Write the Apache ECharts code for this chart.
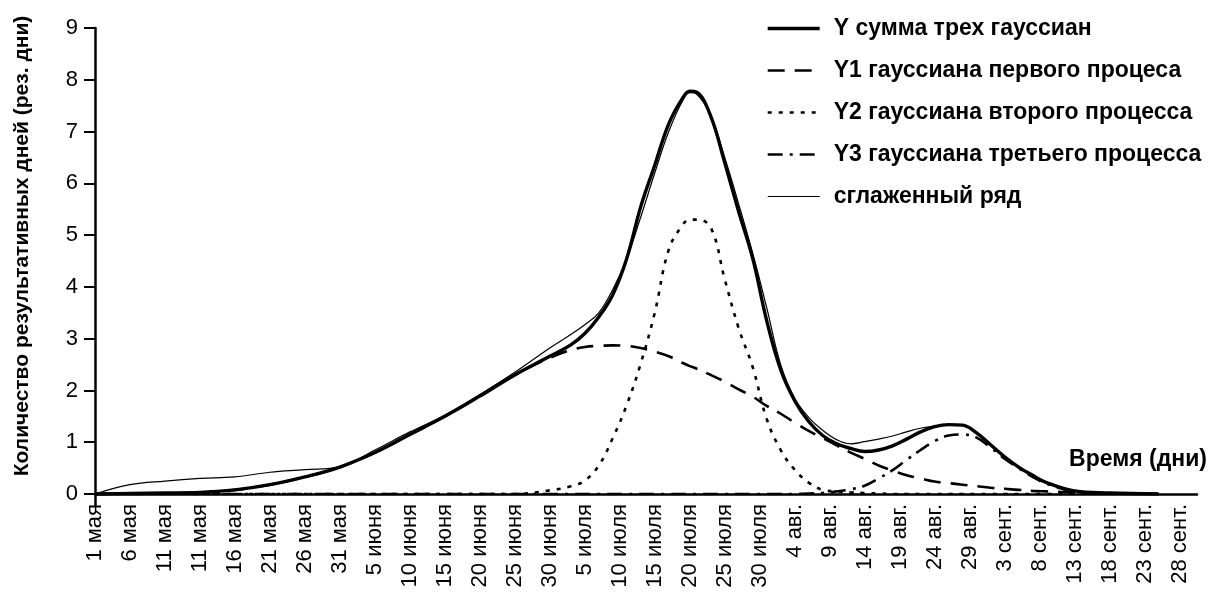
<!DOCTYPE html>
<html>
<head>
<meta charset="utf-8">
<script src="https://cdn.jsdelivr.net/npm/echarts@6/dist/echarts.min.js"></script>
<style>
  html, body { margin: 0; padding: 0; background: #fff; }
  #chart { width: 1219px; height: 601px; }
</style>
</head>
<body>
<div id="chart"></div>
<script>
// tick labels every 5 days (the doubled "11 мая" is as in the source)
const labels = ['1 мая', '6 мая', '11 мая', '11 мая', '16 мая', '21 мая', '26 мая', '31 мая',
  '5 июня', '10 июня', '15 июня', '20 июня', '25 июня', '30 июня',
  '5 июля', '10 июля', '15 июля', '20 июля', '25 июля', '30 июля',
  '4 авг.', '9 авг.', '14 авг.', '19 авг.', '24 авг.', '29 авг.',
  '3 сент.', '8 сент.', '13 сент.', '18 сент.', '23 сент.', '28 сент.'];

// days since 1 May
const days = [0, 5, 10, 15, 20, 25, 30, 35, 40, 45, 50, 55, 60, 65, 68, 70, 72, 74, 76, 78, 80, 82, 84, 85, 86, 88,
  90, 92, 94, 96, 98, 100, 102, 104, 106, 108, 110, 112, 114, 116, 118, 120, 122, 124, 126, 128, 130, 132, 134, 136,
  140, 145, 152];

const ySum = [0, 0.01, 0.02, 0.03, 0.08, 0.18, 0.33, 0.52, 0.8, 1.15, 1.5, 1.89, 2.3, 2.66, 2.88, 3.1, 3.42, 3.85, 4.55,
  5.55, 6.35, 7.15, 7.65, 7.78, 7.76, 7.3, 6.4, 5.45, 4.55, 3.35, 2.4, 1.8, 1.4, 1.13, 0.97, 0.88, 0.82, 0.85, 0.93,
  1.06, 1.2, 1.3, 1.34, 1.33, 1.18, 0.95, 0.72, 0.52, 0.36, 0.22, 0.06, 0.02, 0];

const y1 = [0, 0.005, 0.01, 0.03, 0.08, 0.18, 0.33, 0.52, 0.8, 1.15, 1.5, 1.89, 2.3, 2.63, 2.78, 2.84, 2.86, 2.87, 2.86,
  2.82, 2.75, 2.66, 2.53, 2.47, 2.42, 2.3, 2.17, 2.02, 1.88, 1.7, 1.55, 1.38, 1.22, 1.08, 0.94, 0.8, 0.68, 0.55, 0.45,
  0.36, 0.3, 0.24, 0.21, 0.18, 0.15, 0.12, 0.1, 0.08, 0.06, 0.05, 0.03, 0.01, 0];

const y2 = [0, 0, 0, 0, 0, 0, 0, 0, 0, 0, 0, 0, 0, 0.07, 0.15, 0.26, 0.55, 1.08, 1.72, 2.52, 3.5, 4.72, 5.2, 5.3, 5.3,
  5.15, 4.15, 3.2, 2.45, 1.45, 0.85, 0.47, 0.22, 0.08, 0.05, 0.03, 0.02, 0.01, 0, 0, 0, 0, 0, 0, 0, 0, 0, 0, 0, 0,
  0, 0, 0];

const y3 = [0, 0, 0, 0, 0, 0, 0, 0, 0, 0, 0, 0, 0, 0, 0, 0, 0, 0, 0, 0, 0, 0, 0, 0, 0, 0, 0, 0, 0, 0, 0, 0, 0.01, 0.02,
  0.05, 0.09, 0.16, 0.3, 0.46, 0.66, 0.85, 1.02, 1.13, 1.15, 1.09, 0.9, 0.68, 0.5, 0.33, 0.2, 0.05, 0.01, 0];

const smoothed = [0, 0.18, 0.25, 0.3, 0.33, 0.42, 0.47, 0.53, 0.85, 1.2, 1.52, 1.92, 2.35, 2.82, 3.08, 3.27, 3.5, 3.95,
  4.55, 5.35, 6.2, 7.0, 7.6, 7.75, 7.72, 7.3, 6.5, 5.6, 4.65, 3.6, 2.5, 1.85, 1.48, 1.23, 1.05, 0.97, 1.01, 1.06, 1.12,
  1.2, 1.27, 1.31, 1.34, 1.32, 1.17, 0.95, 0.72, 0.52, 0.36, 0.22, 0.07, 0.02, 0];

const names = ['Y сумма трех гауссиан', 'Y1 гауссиана первого процеса', 'Y2 гауссиана второго процесса',
  'Y3 гауссиана третьего процесса', 'сглаженный ряд'];

const pairs = (vals) => days.map((d, i) => [d, vals[i]]);
const font = 'Liberation Sans';

const styles = {
  sum: { color: '#000', width: 3.4, type: 'solid', cap: 'butt' },
  y1: { color: '#000', width: 2.6, type: [17, 10], cap: 'butt' },
  y2: { color: '#000', width: 2.6, type: [4, 7], cap: 'butt' },
  y3: { color: '#000', width: 2.6, type: [15, 7, 3, 7], cap: 'butt' },
  thin: { color: '#000', width: 1.2, type: 'solid', cap: 'butt' },
};

const lineSeries = (name, vals, lineStyle) => ({
  name,
  type: 'line',
  data: pairs(vals),
  smooth: 0.4,
  symbol: 'none',
  lineStyle,
  itemStyle: { color: '#000' },
});

const chart = echarts.init(document.getElementById('chart'));
chart.setOption({
  animation: false,
  textStyle: { fontFamily: font, color: '#000' },
  grid: { left: 95, right: 22, top: 28, bottom: 107 },
  legend: {
    orient: 'vertical',
    left: 761,
    top: 12,
    itemWidth: 52,
    itemHeight: 18,
    itemGap: 19,
    itemStyle: { opacity: 0 },
    data: [
      { name: names[0], lineStyle: styles.sum },
      { name: names[1], lineStyle: styles.y1 },
      { name: names[2], lineStyle: styles.y2 },
      { name: names[3], lineStyle: styles.y3 },
      { name: names[4], lineStyle: styles.thin },
    ],
    textStyle: { fontSize: 23, fontWeight: 'bold', color: '#000', fontFamily: font, padding: [0, 0, 0, 9] },
  },
  xAxis: {
    type: 'value',
    min: 0,
    max: 157.5,
    interval: 5,
    splitLine: { show: false },
    axisLine: { lineStyle: { color: '#000', width: 2.5 } },
    axisTick: { show: true, customValues: [0], length: 12, lineStyle: { color: '#000', width: 2.5 } },
    axisLabel: {
      customValues: labels.map((l, i) => i * 5),
      formatter: (v) => labels[Math.round(v / 5)] || '',
      rotate: 90,
      fontSize: 22,
      color: '#000',
      fontFamily: font,
      margin: 10,
    },
  },
  yAxis: {
    type: 'value',
    min: 0,
    max: 9,
    interval: 1,
    name: 'Количество результативных дней (рез. дни)',
    nameLocation: 'middle',
    nameGap: 62,
    nameTextStyle: { fontSize: 21, fontWeight: 'bold', color: '#000', fontFamily: font, padding: [0, 0, 0, 30] },
    splitLine: { show: false },
    axisLine: { show: true, lineStyle: { color: '#000', width: 2.5 } },
    axisTick: { show: true, length: 11, lineStyle: { color: '#000', width: 2 } },
    axisLabel: { fontSize: 22, color: '#000', fontFamily: font, margin: 17 },
  },
  graphic: [{
    type: 'text',
    right: 12,
    top: 448,
    style: { text: 'Время (дни)', fontSize: 23, fontWeight: 'bold', fontFamily: font, fill: '#000' },
  }],
  series: [
    lineSeries(names[1], y1, styles.y1),
    lineSeries(names[2], y2, styles.y2),
    lineSeries(names[3], y3, styles.y3),
    lineSeries(names[0], ySum, styles.sum),
    lineSeries(names[4], smoothed, styles.thin),
  ],
});
</script>
</body>
</html>
